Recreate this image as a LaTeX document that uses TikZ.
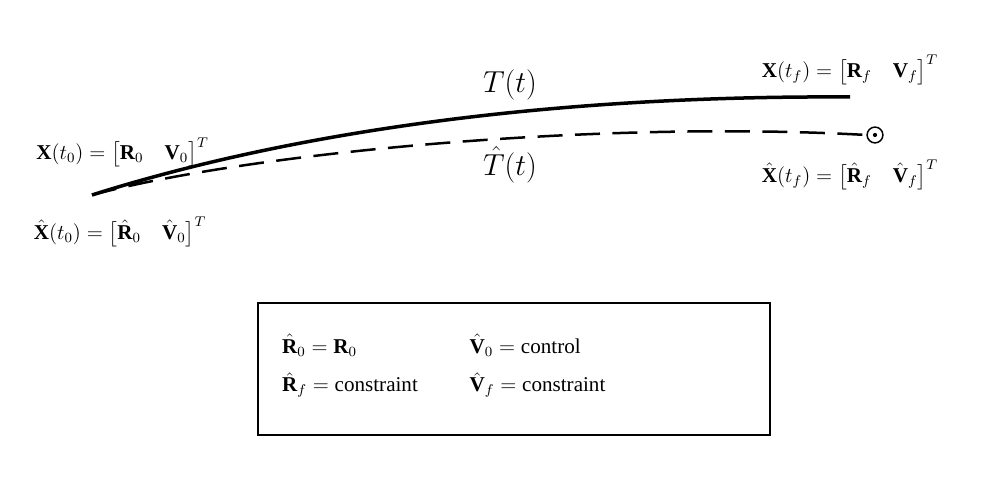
\documentclass[tikz,border=0pt]{standalone}
\usepackage{amsmath}
\usepackage{fontspec}
\setmainfont{Liberation Serif}
\usetikzlibrary{positioning}
\newcommand{\vb}[1]{\mathbf{#1}}
\begin{document}
\begin{tikzpicture}[
      lbl/.style={
         inner sep=1pt,
         font=\large},
      path_true/.style={
         line width=0.7mm},
      path_est/.style={
         line width=0.5mm,
         dash pattern=on 5mm off 2.5mm}
]
\useasboundingbox (0,0) rectangle (20,10);
      %end points
      \coordinate (p0) at (1.84,6.1);
      \coordinate (pf) at (17,8.06);
      \node[circle,draw,line width=0.3mm,minimum size=9pt,inner sep=0pt] (tgt) at (17.5,7.3) {};
      \fill (tgt) circle (1.2pt);

      \draw[path_true] (p0) .. controls (5,7.1) and (10,8.1) .. (pf);
      \draw[path_est] (p0) .. controls (5,6.95) and (12,7.6) .. (tgt.west);

      %labels
      \node[lbl] (x0) at (2.45,6.95) {$\vb{X}(t_0)=\bigl[\vb{R}_0\quad\vb{V}_0\bigr]^T$};
      \node[lbl] (xh0) at (2.4,5.36) {$\hat{\vb{X}}(t_0)=\bigl[\hat{\vb{R}}_0\quad\hat{\vb{V}}_0\bigr]^T$};
      \node[lbl] (xf) at (17,8.6) {$\vb{X}(t_f)=\bigl[\vb{R}_f\quad\vb{V}_f\bigr]^T$};
      \node[lbl] (xhf) at (17,6.5) {$\hat{\vb{X}}(t_f)=\bigl[\hat{\vb{R}}_f\quad\hat{\vb{V}}_f\bigr]^T$};
      \node[font=\LARGE] (T) at (10.2,8.3) {$T(t)$};
      \node[font=\LARGE] (Th) at (10.2,6.7) {$\hat{T}(t)$};

      %legend
      \draw[line width=0.3mm] (5.16,1.3) rectangle (15.4,3.94);
      \node[lbl,anchor=west] (r0) at (5.6,3.1) {$\hat{\vb{R}}_0=\vb{R}_0$};
      \node[lbl,anchor=west] (rf) at (5.6,2.3) {$\hat{\vb{R}}_f=\text{constraint}$};
      \node[lbl,anchor=west] (v0) at (9.35,3.1) {$\hat{\vb{V}}_0=\text{control}$};
      \node[lbl,anchor=west] (vf) at (9.35,2.3) {$\hat{\vb{V}}_f=\text{constraint}$};
\end{tikzpicture}
\end{document}
